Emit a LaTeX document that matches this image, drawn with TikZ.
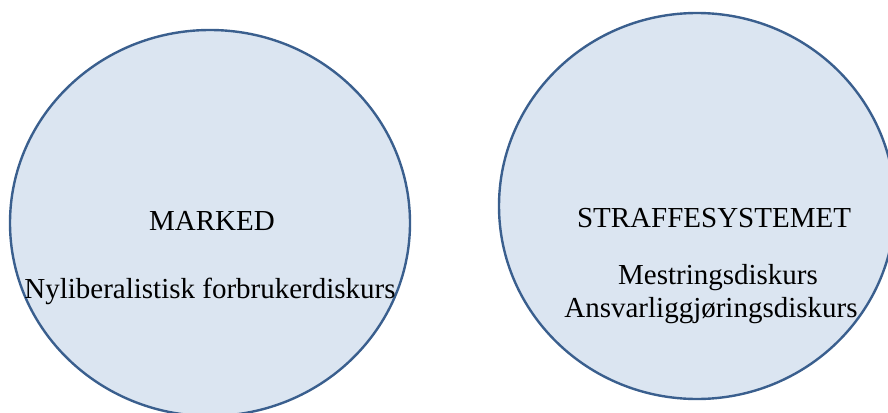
\documentclass[tikz,border=0pt]{standalone}
\usepackage{fontspec}
\setmainfont{Liberation Serif}
\usetikzlibrary{shapes.geometric, positioning}
\definecolor{ringfill}{HTML}{DBE5F1}
\definecolor{ringline}{HTML}{3A5F8E}
\tikzset{
x=1pt, y=-1pt,
sphere/.style={%
    ellipse,
    draw=ringline,
    fill=ringfill,
    line width=2.4pt,
    minimum width=400pt,
    minimum height=386pt,
    inner sep=0pt
},
disc/.style={%
    font=\fontsize{29}{33}\selectfont,
    text=black,
    anchor=base,
    inner sep=0pt
},
}

\begin{document}
\begin{tikzpicture}
	\useasboundingbox (0,0) rectangle (888,412);
	\node[sphere] (marked) at (210,223) {};
	\node[sphere, minimum width=396pt] (straff) at (697,206) {};

	% left
	\node[disc] (markedname) at (212,230) {MARKED};
	\node[disc] (forbruker) at (210,298) {Nyliberalistisk forbrukerdiskurs};

	% right
	\node[disc] (straffname) at (714,227) {STRAFFESYSTEMET};
	\node[disc] (mestring) at (718,284) {Mestringsdiskurs};
	\node[disc] (ansvar) at (711,317) {Ansvarliggjøringsdiskurs};
\end{tikzpicture}
\end{document}
